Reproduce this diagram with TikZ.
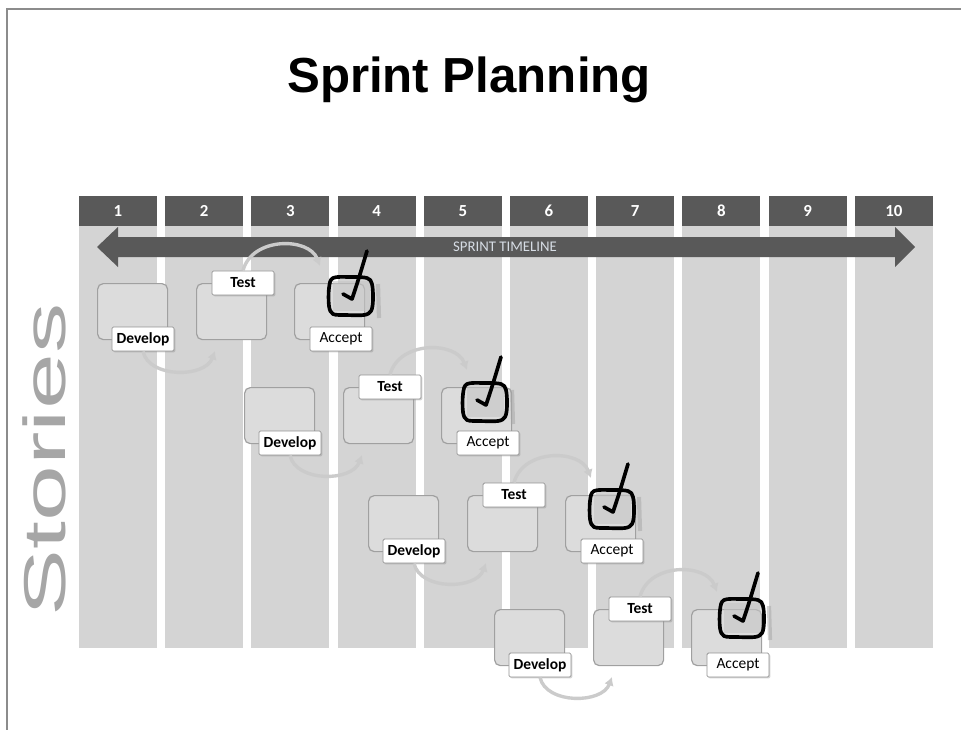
\documentclass[tikz,border=0pt]{standalone}
\usepackage{fontspec}
\setmainfont{Carlito}
\newfontfamily\headfont{Liberation Sans}
\usetikzlibrary{arrows.meta,positioning,calc,shadows}
\definecolor{barGray}{HTML}{595959}
\definecolor{laneGray}{HTML}{D4D4D4}
\definecolor{tileGray}{HTML}{DCDCDC}
\definecolor{tileEdge}{HTML}{A0A0A0}
\definecolor{flowGray}{HTML}{CBCBCB}
\definecolor{storyGray}{HTML}{A6A6A6}
\definecolor{frameGray}{HTML}{8C8C8C}
\definecolor{tlText}{HTML}{D6DCE4}

\begin{document}
\begin{tikzpicture}[x=0.025cm,y=-0.025cm,
    lanehead/.style={fill=barGray,minimum width=1.95cm,minimum height=0.75cm,inner sep=0pt,text=white,font=\bfseries\fontsize{12}{12}\selectfont},
    lane/.style={fill=laneGray,minimum width=1.95cm,minimum height=10.55cm,inner sep=0pt},
    tile/.style={draw=tileEdge,fill=tileGray,line width=0.85pt,rounded corners=4pt,minimum width=1.75cm,minimum height=1.4cm,inner sep=0pt,anchor=north west},
    tag/.style={draw=gray!85,fill=white,line width=0.6pt,rounded corners=1pt,minimum width=1.55cm,minimum height=0.6cm,inner sep=0pt,font=\fontsize{11}{11}\selectfont,drop shadow={shadow xshift=1pt,shadow yshift=-1pt,opacity=0.35}},
    flow/.style={flowGray,line width=2.4pt,-{Latex[length=6pt,width=7pt]}},
    tick/.style={black,line width=2.6pt,line cap=round,line join=round}]
  \useasboundingbox (0,0) rectangle (961,730);
  \draw[frameGray,line width=1.2pt] (7,730) -- (7,9) -- (961,9);

  % title and side text
  \node[anchor=base,font=\headfont\bfseries\fontsize{35}{35}\selectfont] (title) at (469,92) {Sprint Planning};
  \node[rotate=90,text=storyGray,font=\headfont\fontsize{42}{42}\selectfont] (stories) at (44,460) {\scalebox{1.7}[1]{Stories}};

  % sprint lanes
  \foreach \i in {1,...,10} {
    \pgfmathsetmacro{\cx}{118+(\i-1)*86.2}
    \node[lane] (lane\i) at (\cx,437) {};
    \node[lanehead] (head\i) at (\cx,211) {\i};
  }

  % timeline
  \fill[barGray] (97,247) -- (118,227) -- (118,237) -- (895,237) -- (895,227) -- (915,247)
    -- (895,267) -- (895,257) -- (118,257) -- (118,267) -- cycle;
  \node[text=tlText,font=\fontsize{10.5}{10.5}\selectfont] (timeline) at (505,247) {SPRINT TIMELINE};

  % stories
  \foreach \r/\x/\y/\bx/\by in {1/97/283/34/-7,2/244/387/21/-5,3/368/495/24/-6,4/494/609/28/-11} {
    \node[tile] (devtile\r) at (\x,\y) {};
    \node[tile] (testtile\r) at (\x+99,\y) {};
    \node[tile] (acctile\r) at (\x+197,\y) {};
    \coordinate (testin\r) at (\x+118,\y+68);
    \coordinate (accin\r) at (\x+223,\y-17);
    \node[tag] (devtag\r) at (\x+46,\y+56) {\bfseries Develop};
    \node[tag] (testtag\r) at (\x+146,\y) {\bfseries Test};
    \draw[flow] (devtag\r.south) .. controls +(6,27) and +(-10,27) .. (testin\r);
    \draw[flow] (testtag\r.north) .. controls +(9,-34) and +(-11,-29) .. (accin\r);
    \node[tag] (acctag\r) at (\x+244,\y+56) {Accept};
    \begin{scope}[shift={(\x+197+\bx,\y+\by)}]
      \fill[gray!45,opacity=0.6] (5,5) rectangle (42,35);
      \draw[gray!70,line width=3pt,opacity=0.5] (50,8) -- (51,42);
      \draw[tick] plot[smooth cycle,tension=0.55] coordinates {(5,2) (22,1) (39,2) (44,8) (45,24) (43,35) (36,39) (18,39) (5,38) (1,30) (1,12)};
      \draw[tick] (15,18) -- (24,23) .. controls (30,5) .. (39,-25);
    \end{scope}
  }
\end{tikzpicture}
\end{document}
